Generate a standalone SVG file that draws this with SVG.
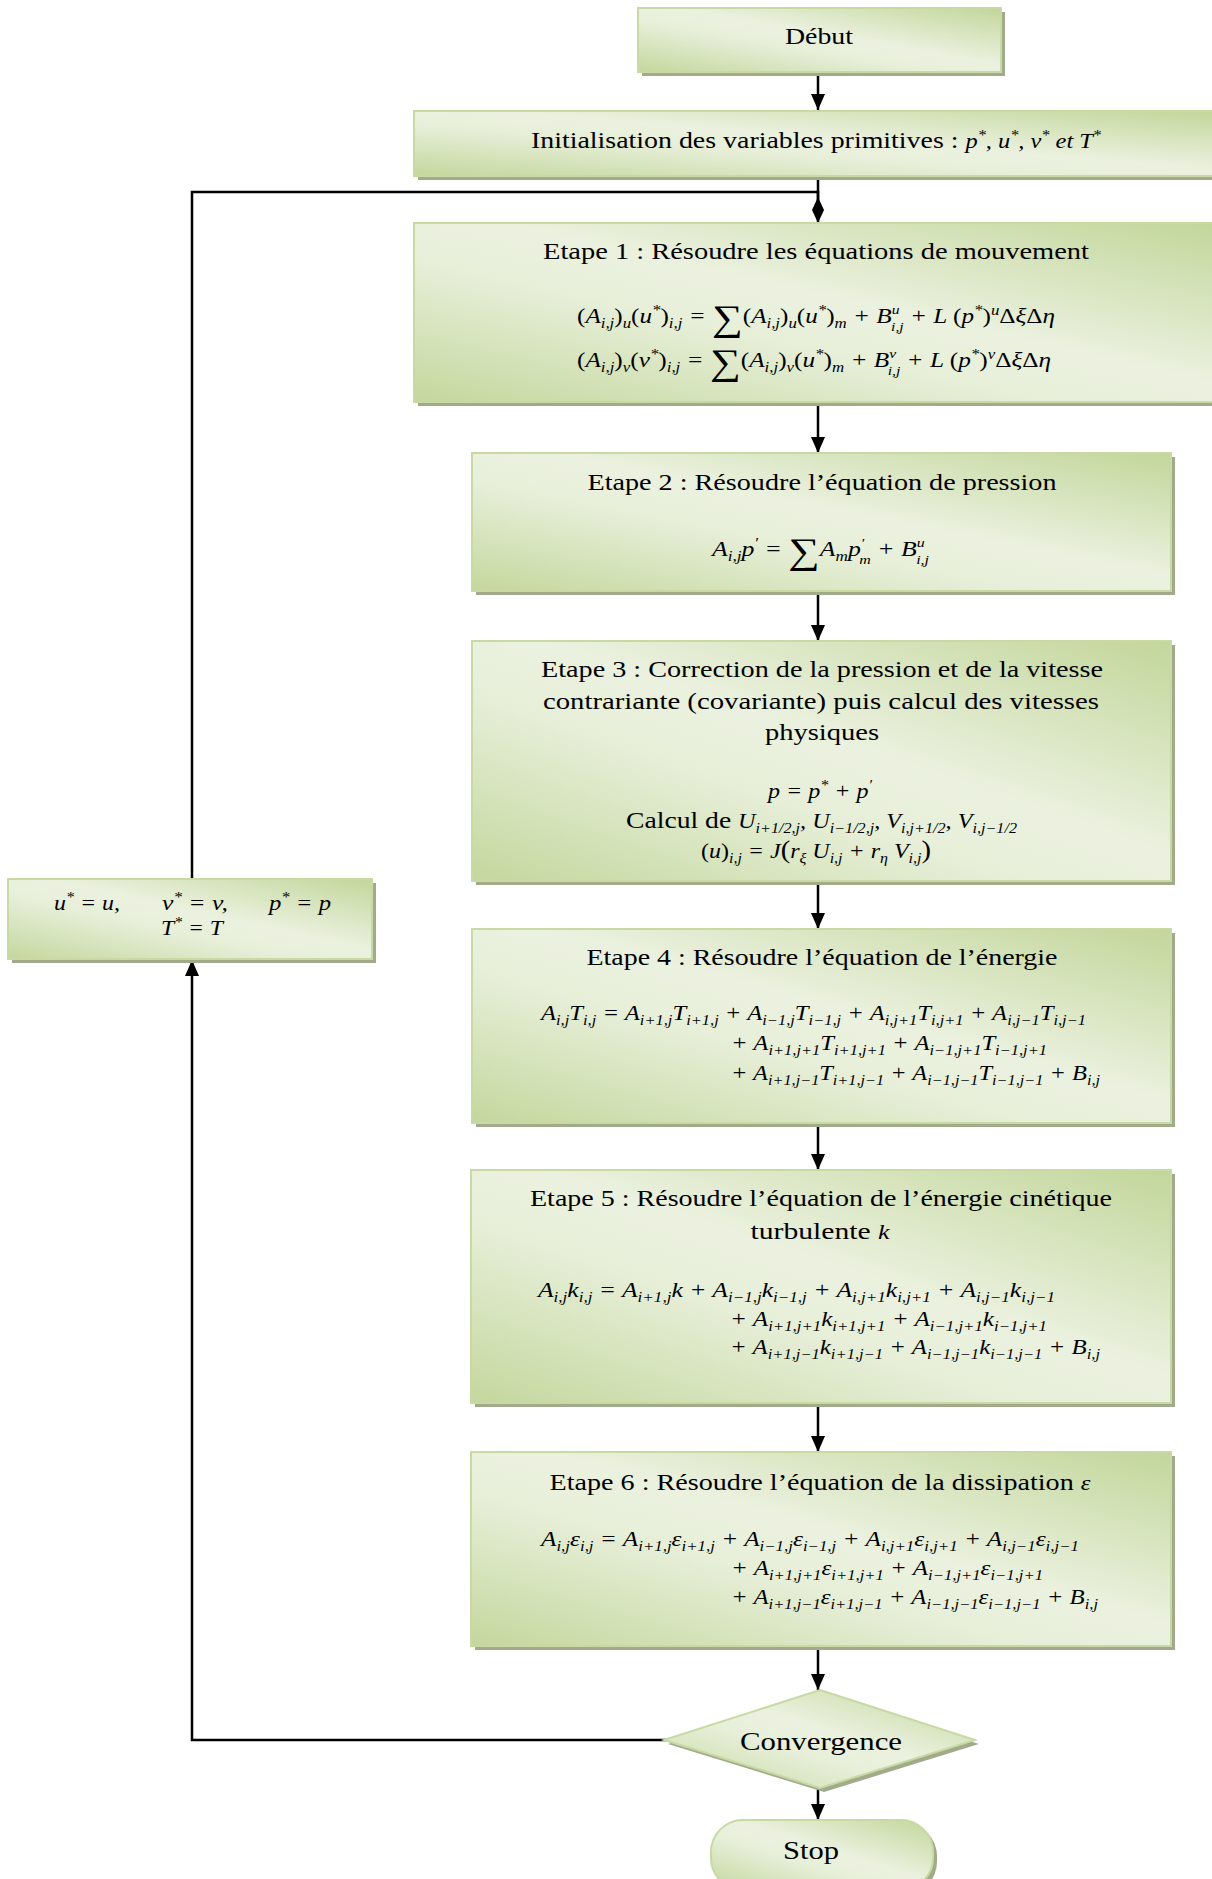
<svg xmlns="http://www.w3.org/2000/svg" width="1212" height="1879" viewBox="0 0 1212 1879">
<defs>
<style>
.t{font-family:"Liberation Serif",serif;font-size:24px;fill:#000;text-anchor:middle}
.e{font-family:"Liberation Serif",serif;font-style:italic;font-size:21px;fill:#000}
.r{font-style:normal}
.s{font-size:14px;baseline-shift:-5px}
.s2{font-size:13px;baseline-shift:-8px}
.u{font-size:14px;baseline-shift:8px}
.u2{font-size:13px;baseline-shift:9px}
.big{font-size:36px;font-style:normal;baseline-shift:-7px}
.box{fill:url(#g);stroke:#c8d9a4;stroke-width:2}
.sh{fill:#a2aa8c}
.c{fill:none;stroke:#000;stroke-width:2.5}
</style>
<linearGradient id="g" x1="1" y1="0" x2="0" y2="1">
<stop offset="0" stop-color="#c2d69a"/>
<stop offset="0.45" stop-color="#ebf1df"/>
<stop offset="0.6" stop-color="#e7efd9"/>
<stop offset="1" stop-color="#c4d79d"/>
</linearGradient>
<marker id="ar" viewBox="0 0 16 16" refX="16" refY="8" markerWidth="16" markerHeight="16" orient="auto" markerUnits="userSpaceOnUse"><path d="M0,1 L16,8 L0,15 z" fill="#000"/></marker>
<marker id="dm" viewBox="0 0 26 12" refX="26" refY="6" markerWidth="26" markerHeight="12" orient="auto" markerUnits="userSpaceOnUse"><path d="M0,6 L13,0 L26,6 L13,12 z" fill="#000"/></marker>
</defs>

<g id="connectors">
<path class="c" d="M818,72 V110" marker-end="url(#ar)"/>
<path class="c" d="M818,176 V200"/>
<path class="c" d="M192,879 V192 H818 V223" marker-end="url(#dm)"/>
<path class="c" d="M818,402 V453" marker-end="url(#ar)"/>
<path class="c" d="M818,591 V641" marker-end="url(#ar)"/>
<path class="c" d="M818,881 V929" marker-end="url(#ar)"/>
<path class="c" d="M818,1123 V1170" marker-end="url(#ar)"/>
<path class="c" d="M818,1403 V1452" marker-end="url(#ar)"/>
<path class="c" d="M818,1646 V1690" marker-end="url(#ar)"/>
<path class="c" d="M818,1786 V1820" marker-end="url(#ar)"/>
<path class="c" d="M666,1740 H192 V960" marker-end="url(#ar)"/>
</g>

<g id="debut">
<rect class="sh" x="642" y="12" width="363" height="64"/>
<rect class="box" x="638" y="8" width="363" height="64"/>
<text class="t" x="819" y="44" textLength="68" lengthAdjust="spacingAndGlyphs">Début</text>
</g>

<g id="init">
<rect class="sh" x="418" y="115" width="800" height="65"/>
<rect class="box" x="414" y="111" width="800" height="65"/>
<text class="t" x="816" y="148" textLength="570" lengthAdjust="spacingAndGlyphs">Initialisation des variables primitives : <tspan class="e">p<tspan class="u">*</tspan>, u<tspan class="u">*</tspan>, v<tspan class="u">*</tspan> et T<tspan class="u">*</tspan></tspan></text>
</g>

<g id="etape1">
<rect class="sh" x="418" y="227" width="800" height="179"/>
<rect class="box" x="414" y="223" width="800" height="179"/>
<text class="t" x="816" y="259" textLength="546" lengthAdjust="spacingAndGlyphs">Etape 1 : Résoudre les équations de mouvement</text>
<text class="e" x="577" y="323" textLength="478" lengthAdjust="spacingAndGlyphs"><tspan class="r">(</tspan>A<tspan class="s">i,j</tspan><tspan class="r">)</tspan><tspan class="s">u</tspan><tspan class="r">(</tspan>u<tspan class="u">*</tspan><tspan class="r">)</tspan><tspan class="s">i,j</tspan> = <tspan class="big">∑</tspan><tspan class="r">(</tspan>A<tspan class="s">i,j</tspan><tspan class="r">)</tspan><tspan class="s">u</tspan><tspan class="r">(</tspan>u<tspan class="u">*</tspan><tspan class="r">)</tspan><tspan class="s">m</tspan> + B<tspan class="u2">u</tspan><tspan class="s2" dx="-7">i,j</tspan> + L <tspan class="r">(</tspan>p<tspan class="u">*</tspan><tspan class="r">)</tspan><tspan class="u">u</tspan><tspan class="r">Δ</tspan>ξ<tspan class="r">Δ</tspan>η</text>
<text class="e" x="577" y="367" textLength="474" lengthAdjust="spacingAndGlyphs"><tspan class="r">(</tspan>A<tspan class="s">i,j</tspan><tspan class="r">)</tspan><tspan class="s">v</tspan><tspan class="r">(</tspan>v<tspan class="u">*</tspan><tspan class="r">)</tspan><tspan class="s">i,j</tspan> = <tspan class="big">∑</tspan><tspan class="r">(</tspan>A<tspan class="s">i,j</tspan><tspan class="r">)</tspan><tspan class="s">v</tspan><tspan class="r">(</tspan>u<tspan class="u">*</tspan><tspan class="r">)</tspan><tspan class="s">m</tspan> + B<tspan class="u2">v</tspan><tspan class="s2" dx="-7">i,j</tspan> + L <tspan class="r">(</tspan>p<tspan class="u">*</tspan><tspan class="r">)</tspan><tspan class="u">v</tspan><tspan class="r">Δ</tspan>ξ<tspan class="r">Δ</tspan>η</text>
</g>

<g id="etape2">
<rect class="sh" x="476" y="457" width="699" height="138"/>
<rect class="box" x="472" y="453" width="699" height="138"/>
<text class="t" x="822" y="490" textLength="469" lengthAdjust="spacingAndGlyphs">Etape 2 : Résoudre l’équation de pression</text>
<text class="e" x="712" y="556" textLength="217" lengthAdjust="spacingAndGlyphs">A<tspan class="s">i,j</tspan>p<tspan class="u">′</tspan> = <tspan class="big">∑</tspan>A<tspan class="s">m</tspan>p<tspan class="u2">′</tspan><tspan class="s2" dx="-4">m</tspan> + B<tspan class="u2">u</tspan><tspan class="s2" dx="-7">i,j</tspan></text>
</g>

<g id="etape3">
<rect class="sh" x="476" y="645" width="699" height="240"/>
<rect class="box" x="472" y="641" width="699" height="240"/>
<text class="t" x="822" y="677" textLength="562" lengthAdjust="spacingAndGlyphs">Etape 3 : Correction de la pression et de la vitesse</text>
<text class="t" x="821" y="709" textLength="556" lengthAdjust="spacingAndGlyphs">contrariante (covariante) puis calcul des vitesses</text>
<text class="t" x="822" y="740" textLength="114" lengthAdjust="spacingAndGlyphs">physiques</text>
<text class="e" x="768" y="798" textLength="104" lengthAdjust="spacingAndGlyphs">p = p<tspan class="u">*</tspan> + p<tspan class="u">′</tspan></text>
<text class="t" x="626" y="828" style="text-anchor:start" textLength="391" lengthAdjust="spacingAndGlyphs">Calcul de <tspan class="e">U<tspan class="s">i+1/2,j</tspan>, U<tspan class="s">i−1/2,j</tspan>, V<tspan class="s">i,j+1/2</tspan>, V<tspan class="s">i,j−1/2</tspan></tspan></text>
<text class="e" x="701" y="858" textLength="230" lengthAdjust="spacingAndGlyphs"><tspan class="r">(</tspan>u<tspan class="r">)</tspan><tspan class="s">i,j</tspan> = J<tspan class="r" style="font-size:25px">(</tspan>r<tspan class="s">ξ</tspan> U<tspan class="s">i,j</tspan> + r<tspan class="s">η</tspan> V<tspan class="s">i,j</tspan><tspan class="r" style="font-size:25px">)</tspan></text>
</g>

<g id="etape4">
<rect class="sh" x="476" y="933" width="699" height="194"/>
<rect class="box" x="472" y="929" width="699" height="194"/>
<text class="t" x="822" y="965" textLength="471" lengthAdjust="spacingAndGlyphs">Etape 4 : Résoudre l’équation de l’énergie</text>
<text class="e" x="541" y="1020" textLength="545" lengthAdjust="spacingAndGlyphs">A<tspan class="s">i,j</tspan>T<tspan class="s">i,j</tspan> = A<tspan class="s">i+1,j</tspan>T<tspan class="s">i+1,j</tspan> + A<tspan class="s">i−1,j</tspan>T<tspan class="s">i−1,j</tspan> + A<tspan class="s">i,j+1</tspan>T<tspan class="s">i,j+1</tspan> + A<tspan class="s">i,j−1</tspan>T<tspan class="s">i,j−1</tspan></text>
<text class="e" x="731" y="1050" textLength="316" lengthAdjust="spacingAndGlyphs">+ A<tspan class="s">i+1,j+1</tspan>T<tspan class="s">i+1,j+1</tspan> + A<tspan class="s">i−1,j+1</tspan>T<tspan class="s">i−1,j+1</tspan></text>
<text class="e" x="731" y="1080" textLength="369" lengthAdjust="spacingAndGlyphs">+ A<tspan class="s">i+1,j−1</tspan>T<tspan class="s">i+1,j−1</tspan> + A<tspan class="s">i−1,j−1</tspan>T<tspan class="s">i−1,j−1</tspan> + B<tspan class="s">i,j</tspan></text>
</g>

<g id="etape5">
<rect class="sh" x="475" y="1174" width="700" height="233"/>
<rect class="box" x="471" y="1170" width="700" height="233"/>
<text class="t" x="821" y="1206" textLength="582" lengthAdjust="spacingAndGlyphs">Etape 5 : Résoudre l’équation de l’énergie cinétique</text>
<text class="t" x="820" y="1239" textLength="139" lengthAdjust="spacingAndGlyphs">turbulente <tspan class="e">k</tspan></text>
<text class="e" x="538" y="1297" textLength="517" lengthAdjust="spacingAndGlyphs">A<tspan class="s">i,j</tspan>k<tspan class="s">i,j</tspan> = A<tspan class="s">i+1,j</tspan>k + A<tspan class="s">i−1,j</tspan>k<tspan class="s">i−1,j</tspan> + A<tspan class="s">i,j+1</tspan>k<tspan class="s">i,j+1</tspan> + A<tspan class="s">i,j−1</tspan>k<tspan class="s">i,j−1</tspan></text>
<text class="e" x="730" y="1326" textLength="317" lengthAdjust="spacingAndGlyphs">+ A<tspan class="s">i+1,j+1</tspan>k<tspan class="s">i+1,j+1</tspan> + A<tspan class="s">i−1,j+1</tspan>k<tspan class="s">i−1,j+1</tspan></text>
<text class="e" x="730" y="1354" textLength="370" lengthAdjust="spacingAndGlyphs">+ A<tspan class="s">i+1,j−1</tspan>k<tspan class="s">i+1,j−1</tspan> + A<tspan class="s">i−1,j−1</tspan>k<tspan class="s">i−1,j−1</tspan> + B<tspan class="s">i,j</tspan></text>
</g>

<g id="etape6">
<rect class="sh" x="475" y="1456" width="700" height="194"/>
<rect class="box" x="471" y="1452" width="700" height="194"/>
<text class="t" x="820" y="1490" textLength="541" lengthAdjust="spacingAndGlyphs">Etape 6 : Résoudre l’équation de la dissipation <tspan class="e">ε</tspan></text>
<text class="e" x="541" y="1546" textLength="538" lengthAdjust="spacingAndGlyphs">A<tspan class="s">i,j</tspan>ε<tspan class="s">i,j</tspan> = A<tspan class="s">i+1,j</tspan>ε<tspan class="s">i+1,j</tspan> + A<tspan class="s">i−1,j</tspan>ε<tspan class="s">i−1,j</tspan> + A<tspan class="s">i,j+1</tspan>ε<tspan class="s">i,j+1</tspan> + A<tspan class="s">i,j−1</tspan>ε<tspan class="s">i,j−1</tspan></text>
<text class="e" x="731" y="1575" textLength="312" lengthAdjust="spacingAndGlyphs">+ A<tspan class="s">i+1,j+1</tspan>ε<tspan class="s">i+1,j+1</tspan> + A<tspan class="s">i−1,j+1</tspan>ε<tspan class="s">i−1,j+1</tspan></text>
<text class="e" x="731" y="1604" textLength="367" lengthAdjust="spacingAndGlyphs">+ A<tspan class="s">i+1,j−1</tspan>ε<tspan class="s">i+1,j−1</tspan> + A<tspan class="s">i−1,j−1</tspan>ε<tspan class="s">i−1,j−1</tspan> + B<tspan class="s">i,j</tspan></text>
</g>

<g id="update">
<rect class="sh" x="12" y="883" width="364" height="80"/>
<rect class="box" x="8" y="879" width="364" height="80"/>
<text class="e" x="54" y="910" textLength="66" lengthAdjust="spacingAndGlyphs">u<tspan class="u">*</tspan> = u,</text>
<text class="e" x="162" y="910" textLength="66" lengthAdjust="spacingAndGlyphs">v<tspan class="u">*</tspan> = v,</text>
<text class="e" x="269" y="910" textLength="62" lengthAdjust="spacingAndGlyphs">p<tspan class="u">*</tspan> = p</text>
<text class="e" x="161" y="935" textLength="62" lengthAdjust="spacingAndGlyphs">T<tspan class="u">*</tspan> = T</text>
</g>

<g id="convergence">
<polygon class="sh" points="824,1694 979,1744 824,1792 668,1744"/>
<polygon class="box" points="820,1690 975,1740 820,1788 664,1740"/>
<text class="t" x="821" y="1750" style="font-size:25px" textLength="162" lengthAdjust="spacingAndGlyphs">Convergence</text>
</g>

<g id="stop">
<rect class="sh" x="715" y="1824" width="222" height="70" rx="32" ry="32"/>
<rect class="box" x="711" y="1820" width="222" height="70" rx="32" ry="32"/>
<text class="t" x="811" y="1859" style="font-size:25px" textLength="56" lengthAdjust="spacingAndGlyphs">Stop</text>
</g>
</svg>
